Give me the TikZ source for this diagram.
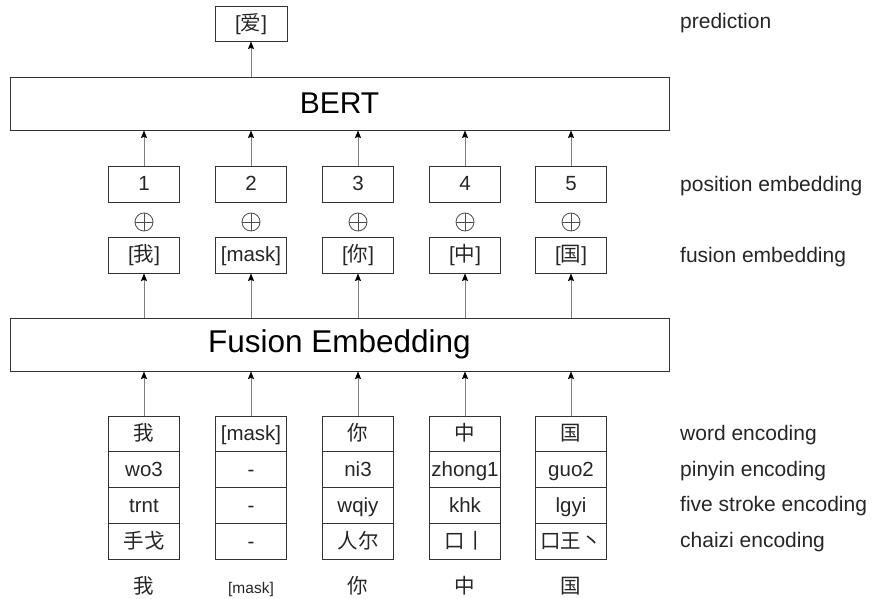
\documentclass[tikz,border=0pt]{standalone}
\usepackage{fontspec}
\setmainfont{Liberation Sans}
\newfontfamily\cjk{Noto Sans CJK SC}
\usetikzlibrary{arrows.meta}
\tikzset{
  cell/.style={draw=black!80, line width=0.9pt, minimum width=71pt, minimum height=35.75pt,
    inner sep=0pt, text=black!85, font=\fontsize{20.5}{24}\selectfont, text height=16pt, text depth=2.5pt},
  big/.style={draw=black!80, line width=0.9pt, minimum width=659pt, minimum height=53pt,
    inner sep=0pt, text=black},
  lbl/.style={anchor=west, inner sep=0pt, text=black!85, font=\fontsize{21}{25}\selectfont,
    text height=15pt, text depth=4.4pt},
  plus/.style={circle, draw=black!70, line width=0.8pt, minimum size=18pt, inner sep=0pt,
    path picture={\draw[black!70, line width=0.8pt]
      (path picture bounding box.north) -- (path picture bounding box.south)
      (path picture bounding box.west) -- (path picture bounding box.east);}},
  bot/.style={inner sep=0pt, text=black!85, font=\fontsize{20.5}{24}\selectfont, text height=16pt, text depth=2.5pt},
  arr/.style={draw=black!50, line width=0.9pt, -{Stealth[length=7.5pt,width=6pt,inset=1pt,color=black]}}
}
\begin{document}
\begin{tikzpicture}[x=1pt,y=-1pt]
\useasboundingbox (0,0) rectangle (872,599);
% prediction
\node[cell, minimum width=72pt, minimum height=35pt] (pred) at (251,23.5) {[{\cjk 爱}]};
\node[big, font=\fontsize{30}{36}\selectfont] (bert) at (339.5,103.5) {BERT};
\node[big, font=\fontsize{31.5}{38}\selectfont] (fe) at (339.5,344.5) {Fusion Embedding};
\draw[arr] (bert.north -| pred.south) -- (pred.south);
% columns
\foreach \i/\x/\fu/\w/\p/\f/\c/\b/\bs in {
  1/144/{[{\cjk 我}]}/{\cjk 我}/wo3/trnt/{\cjk 手戈}/{\cjk 我}/20.5,
  2/251/{[mask]}/{[mask]}/-/-/-/{[mask]}/15.5,
  3/358/{[{\cjk 你}]}/{\cjk 你}/ni3/wqiy/{\cjk 人尔}/{\cjk 你}/20.5,
  4/465/{[{\cjk 中}]}/{\cjk 中}/zhong1/khk/{\cjk 口丨}/{\cjk 中}/20.5,
  5/571/{[{\cjk 国}]}/{\cjk 国}/guo2/lgyi/{\cjk 口王丶}/{\cjk 国}/20.5}{
  \node[cell, minimum height=36pt] (pos\i) at (\x,184) {\i};
  \node[plus] (op\i) at (\x,222) {};
  \node[cell, minimum height=36pt] (fus\i) at (\x,255) {\fu};
  \node[cell] (w\i) at (\x,434) {\w};
  \node[cell] (py\i) at (\x,469.75) {\p};
  \node[cell] (fs\i) at (\x,505.5) {\f};
  \node[cell] (cz\i) at (\x,541.25) {\c};
  \node[bot, font=\fontsize{\bs}{24}\selectfont] (b\i) at (\x,587) {\b};
  \draw[arr] (pos\i) -- (pos\i |- bert.south);
  \draw[arr] (fus\i |- fe.north) -- (fus\i);
  \draw[arr] (w\i) -- (w\i |- fe.south);
}
% right labels
\node[lbl] (l1) at (680,23.5) {prediction};
\node[lbl] (l2) at (680,186) {position embedding};
\node[lbl] (l3) at (680,257) {fusion embedding};
\node[lbl] (l4) at (680,435.5) {word encoding};
\node[lbl] (l5) at (680,471) {pinyin encoding};
\node[lbl] (l6) at (680,506.5) {five stroke encoding};
\node[lbl] (l7) at (680,542.5) {chaizi encoding};
\end{tikzpicture}
\end{document}
